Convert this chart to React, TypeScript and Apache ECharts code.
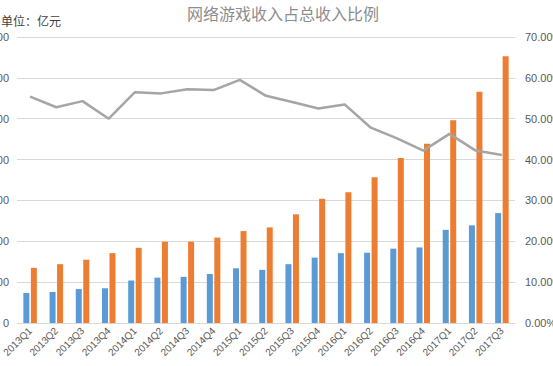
import React, { useEffect, useRef } from "react";
import * as echarts from "echarts";

const categories = [
  "2013Q1", "2013Q2", "2013Q3", "2013Q4",
  "2014Q1", "2014Q2", "2014Q3", "2014Q4",
  "2015Q1", "2015Q2", "2015Q3", "2015Q4",
  "2016Q1", "2016Q2", "2016Q3", "2016Q4",
  "2017Q1", "2017Q2", "2017Q3",
];
const gameRevenue = [73.5, 76, 83, 85, 104, 111, 113, 120, 134, 130, 144, 160, 171, 172, 182, 185, 228, 239, 269];
const totalRevenue = [135, 144, 155, 171, 184, 199, 199, 209, 225, 234, 266, 304, 320, 357, 404, 439, 496, 566, 653];
const gameShare = [0.554, 0.528, 0.543, 0.5, 0.565, 0.562, 0.572, 0.57, 0.595, 0.556, 0.541, 0.525, 0.535, 0.478, 0.452, 0.422, 0.463, 0.422, 0.411];
const leftTicks = { min: 0, max: 700, interval: 100 };
const rightTicks = { min: 0, max: 0.7, interval: 0.1 };

export default function App() {
  const ref = useRef<HTMLDivElement>(null);
  useEffect(() => {
    if (!ref.current) return;
    const chart = echarts.init(ref.current, null, { renderer: "svg" });
    const labelColor = "#595959";
    chart.setOption({
      animation: false,
      textStyle: { fontFamily: "Noto Sans CJK SC, sans-serif" },
      title: [
        {
          text: "网络游戏收入占总收入比例",
          left: 278,
          textAlign: "center",
          top: 0,
          textStyle: { fontSize: 16, fontWeight: "normal", color: "#8c8c8c", fontFamily: "Noto Sans CJK SC" },
        },
        {
          text: "单位：亿元",
          left: -4,
          top: 9,
          textStyle: { fontSize: 12, fontWeight: "normal", color: "#404040", fontFamily: "Noto Sans CJK SC" },
        },
      ],
      grid: { left: 17, right: 38, top: 37, bottom: 43, containLabel: false, outerBoundsMode: "none" },
      xAxis: {
        type: "category",
        data: categories,
        axisLine: { lineStyle: { color: "#d9d9d9" } },
        axisTick: { show: false },
        axisLabel: { rotate: 45, fontSize: 10, color: labelColor, margin: 6, interval: 0, fontFamily: "Liberation Sans" },
      },
      yAxis: [
        {
          type: "value",
          min: leftTicks.min,
          max: leftTicks.max,
          interval: leftTicks.interval,
          axisLine: { show: false },
          axisTick: { show: false },
          splitLine: { lineStyle: { color: "#d9d9d9", width: 1 } },
          axisLabel: { fontSize: 11, color: labelColor, margin: 8, fontFamily: "Liberation Sans" },
        },
        {
          type: "value",
          min: rightTicks.min,
          max: rightTicks.max,
          interval: rightTicks.interval,
          axisLine: { show: false },
          axisTick: { show: false },
          splitLine: { show: false },
          axisLabel: {
            fontSize: 11,
            color: labelColor,
            margin: 10,
            fontFamily: "Liberation Sans",
            formatter: (v: number) => (v * 100).toFixed(2) + "%",
          },
        },
      ],
      series: [
        {
          name: "网络游戏收入",
          type: "bar",
          data: gameRevenue,
          barWidth: 6,
          barGap: "25%",
          itemStyle: { color: "#5b9bd5" },
        },
        {
          name: "总收入",
          type: "bar",
          data: totalRevenue,
          barWidth: 6,
          itemStyle: { color: "#ed7d31" },
        },
        {
          name: "占比",
          type: "line",
          yAxisIndex: 1,
          data: gameShare,
          symbol: "none",
          lineStyle: { color: "#a5a5a5", width: 2.5 },
          z: 5,
        },
      ],
    });
    return () => chart.dispose();
  }, []);
  return <div ref={ref} style={{ width: 553, height: 366, position: "absolute", left: 0, top: 0 }} />;
}
